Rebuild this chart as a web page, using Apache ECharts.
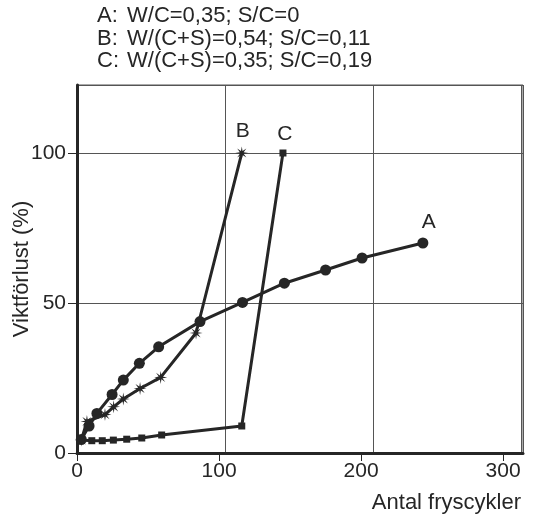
<!DOCTYPE html>
<html>
<head>
<meta charset="utf-8">
<script src="https://cdn.jsdelivr.net/npm/echarts@6/dist/echarts.min.js"></script>
<style>
  html, body { margin: 0; padding: 0; background: #fff; }
  #main { width: 543px; height: 521px; }
</style>
</head>
<body>
<div id="main"></div>
<script>
// data: [fryscykler, viktförlust %]
var serieA = [[3, 4.5], [8.5, 9], [14, 13.2], [24.7, 19.5], [32.6, 24.3], [43.9, 29.9], [57.5, 35.4],
  [86.6, 43.8], [116.5, 50.2], [146, 56.6], [175, 61], [200.7, 65], [243.5, 70]];
var serieB = [[3, 4.3], [7, 10.5], [19.7, 12.8], [25.8, 15.4], [32.6, 18], [44.4, 21.5], [58.9, 25.2],
  [83.8, 40], [116, 100]];
var serieC = [[3, 4.3], [10.4, 4.1], [17.8, 4.1], [25.6, 4.3], [35, 4.6], [45.6, 5], [59.6, 6],
  [116, 9], [145, 100]];
var xTicks = [0, 100, 200, 300];
var yTicks = [0, 50, 100];
var legendRows = [
  ['A:', 'W/C=0,35; S/C=0'],
  ['B:', 'W/(C+S)=0,54; S/C=0,11'],
  ['C:', 'W/(C+S)=0,35; S/C=0,19']
];

var ink = '#262626';
var font = '"Liberation Sans", Arial, sans-serif';

// asterisk (8-armed star) symbol
function starPath(n, r1, r2) {
  var p = [];
  for (var i = 0; i < n * 2; i++) {
    var a = Math.PI * i / n - Math.PI / 2;
    var r = i % 2 ? r2 : r1;
    p.push((i ? 'L' : 'M') + (r * Math.cos(a)).toFixed(2) + ',' + (r * Math.sin(a)).toFixed(2));
  }
  return 'path://' + p.join('') + 'Z';
}

var chart = echarts.init(document.getElementById('main'));

function mk(data, name, symbol, size, offset) {
  return {
    name: name,
    type: 'line',
    data: data.map(function (d, i) {
      var o = { value: d };
      if (i === data.length - 1) {
        // curve letter at the end of each line
        o.label = { show: true, position: 'top', distance: 5, offset: offset || [0, 0],
          formatter: name, color: ink, fontFamily: font, fontSize: 21 };
      }
      return o;
    }),
    symbol: symbol,
    symbolSize: size,
    showAllSymbol: true,
    lineStyle: { color: ink, width: 3 },
    itemStyle: { color: ink },
    label: { show: false },
    z: 5
  };
}

var option = {
  animation: false,
  grid: {
    left: 77, right: 20, top: 85, bottom: 68,
    outerBoundsMode: 'none', containLabel: false,
    show: true, borderColor: '#555', borderWidth: 1
  },
  xAxis: [{
    type: 'value', min: 0, max: 314, interval: 100,
    axisLine: { lineStyle: { color: ink, width: 3 } },
    axisTick: { length: 8, lineStyle: { color: ink, width: 1 } },
    axisLabel: { color: ink, fontFamily: font, fontSize: 21, margin: 8, showMaxLabel: false,
      formatter: function (v) { return xTicks.indexOf(v) >= 0 ? String(v) : ''; } },
    splitLine: { show: false }
  }, {
    // grid overlay of the original, slightly wider spaced than the ticks
    type: 'value', min: 0, max: 3.01, interval: 1, position: 'bottom',
    axisLine: { show: false }, axisTick: { show: false }, axisLabel: { show: false },
    splitLine: { show: true, lineStyle: { color: '#555', width: 1 } }
  }],
  yAxis: {
    type: 'value', min: 0, max: 122.67, interval: 50,
    name: 'Viktförlust (%)', nameLocation: 'middle', nameGap: 44, nameMoveOverlap: false,
    nameTextStyle: { color: ink, fontFamily: font, fontSize: 22 },
    axisLine: { lineStyle: { color: ink, width: 3 } },
    axisTick: { length: 9, lineStyle: { color: ink, width: 1 } },
    axisLabel: { color: ink, fontFamily: font, fontSize: 21, margin: 11, showMaxLabel: false,
      formatter: function (v) { return yTicks.indexOf(v) >= 0 ? String(v) : ''; } },
    splitLine: { show: true, lineStyle: { color: '#555', width: 1 } }
  },
  series: [
    mk(serieA, 'A', 'circle', 11, [6, 0]),
    mk(serieB, 'B', starPath(8, 7, 2.2), 13, [1, 0]),
    mk(serieC, 'C', 'rect', 7, [2, 0])
  ],
  graphic: legendRows.map(function (r, i) {
    return {
      type: 'group', left: 97, top: 5 + i * 22.5,
      children: [
        { type: 'text', x: 0, y: 0, style: { text: r[0], font: '22px ' + font, fill: ink } },
        { type: 'text', x: 30, y: 0, style: { text: r[1], font: '22px ' + font, fill: ink } }
      ]
    };
  }).concat([{
    type: 'text', right: 22, top: 492,
    style: { text: 'Antal fryscykler', font: '22px ' + font, fill: ink }
  }])
};

chart.setOption(option);
</script>
</body>
</html>
